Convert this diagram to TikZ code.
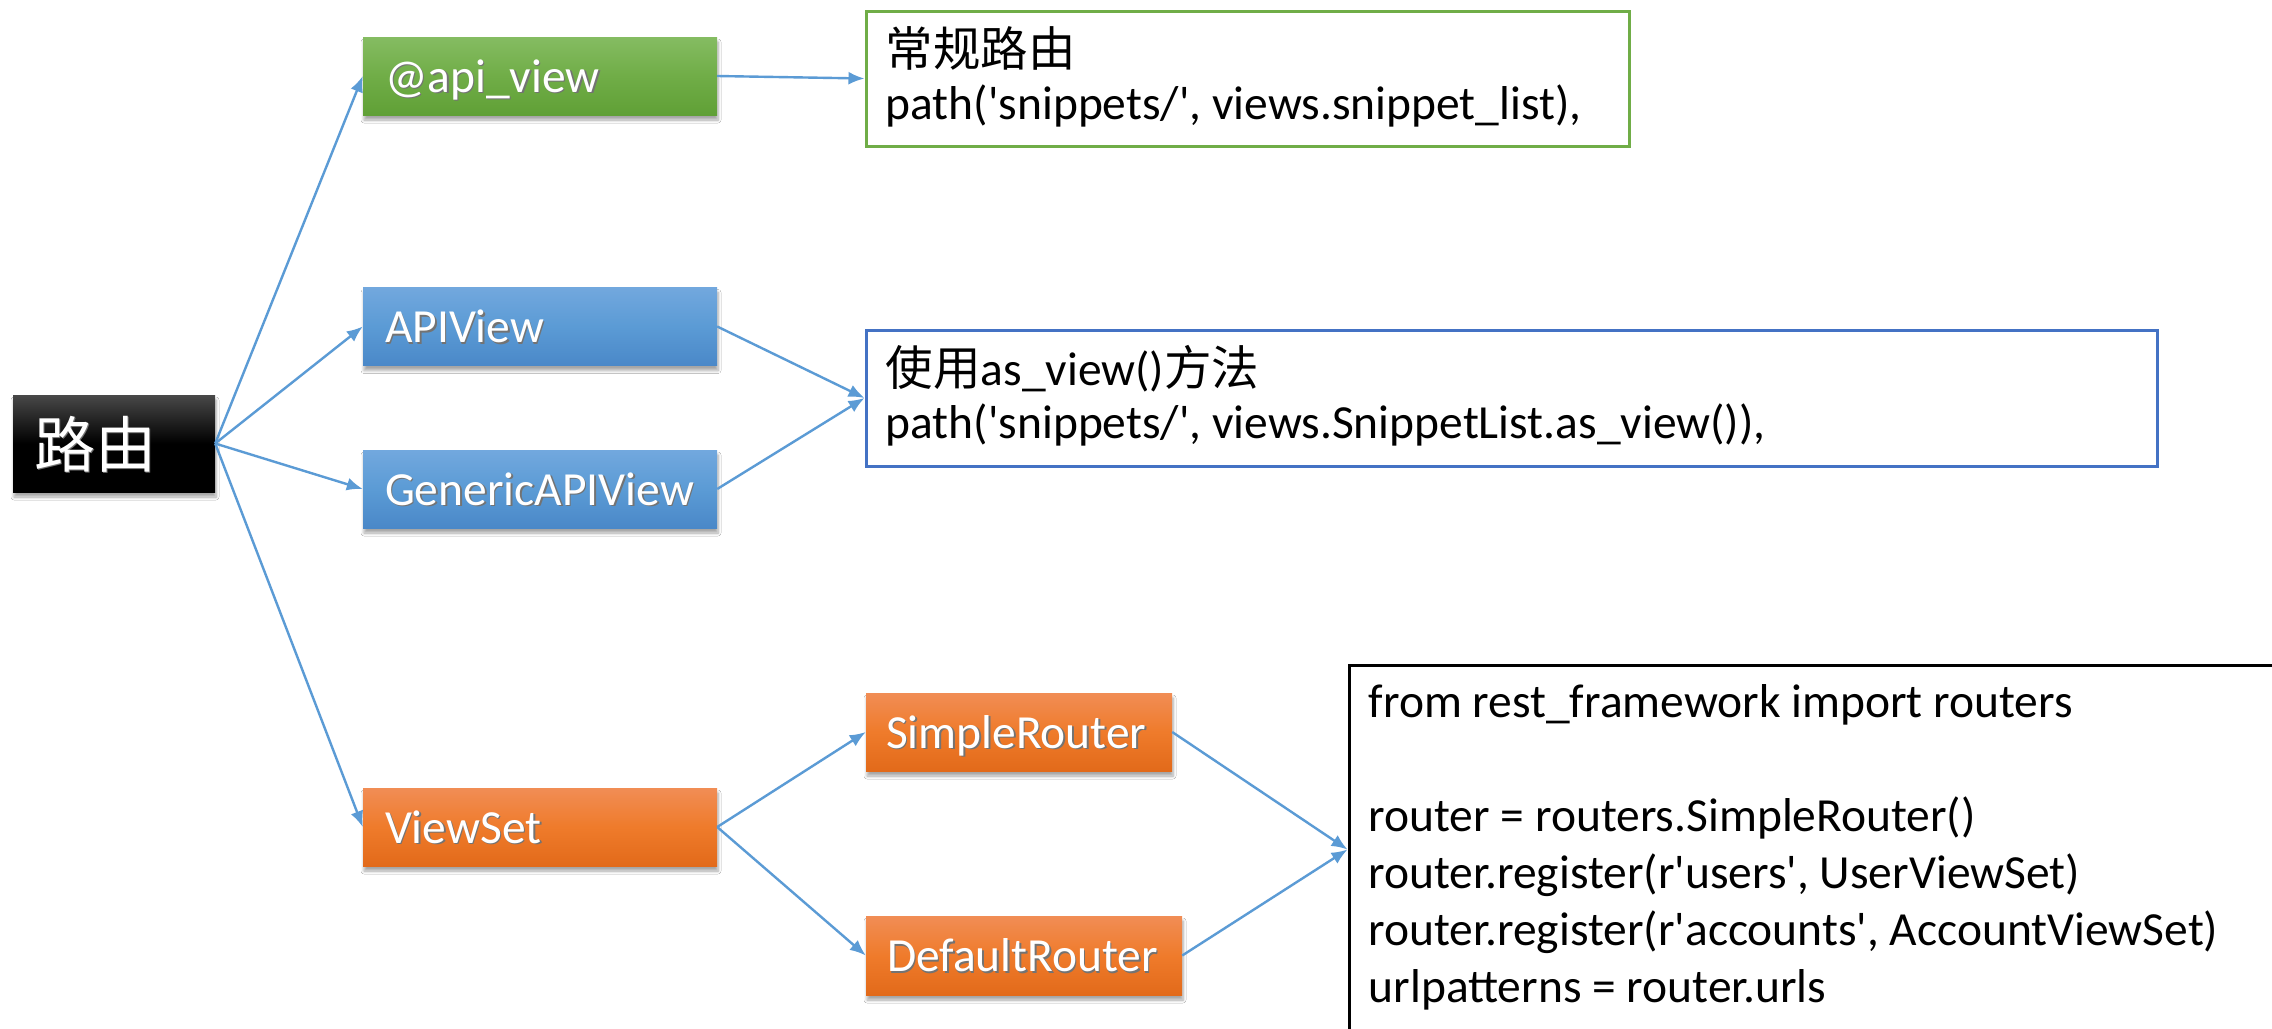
\documentclass[tikz,border=0pt]{standalone}
\usepackage{fontspec}
\setmainfont{Carlito}[Ligatures=TeXOff]
\newfontfamily\cjk{Noto Sans CJK SC}
\usetikzlibrary{arrows.meta,shadows.blur}
\definecolor{arrblue}{HTML}{5B9BD5}
\definecolor{G1}{HTML}{85BC62}
\definecolor{G2}{HTML}{70AD47}
\definecolor{G3}{HTML}{60A036}
\definecolor{B1}{HTML}{72A8DE}
\definecolor{B2}{HTML}{5B9BD5}
\definecolor{B3}{HTML}{4A88C8}
\definecolor{O1}{HTML}{F18D55}
\definecolor{O2}{HTML}{EF7B2B}
\definecolor{O3}{HTML}{E26A1A}
\definecolor{R1}{HTML}{484848}
\definecolor{GB}{HTML}{70AD47}
\definecolor{BB}{HTML}{4472C4}
\newcommand\shtxt[1]{\rlap{\hspace{1.6pt}\raisebox{-1.6pt}{\color{black!55}#1}}#1}
\begin{document}
\begin{tikzpicture}[x=1pt,y=-1pt,
  arr/.style={draw=arrblue, line width=2.4pt, -{Latex[length=16pt,width=13pt]}},
  box/.style={rectangle, inner sep=0pt, minimum width=354pt, minimum height=78pt,
    blur shadow={shadow xshift=1pt, shadow yshift=-5pt, shadow blur steps=6, shadow blur radius=3pt, shadow opacity=35}},
  gbox/.style={box, top color=G1, bottom color=G3, middle color=G2},
  bbox/.style={box, top color=B1, bottom color=B3, middle color=B2},
  obox/.style={box, top color=O1, bottom color=O3, middle color=O2},
  rootbox/.style={box, minimum width=202pt, minimum height=97pt, top color=R1, bottom color=black, middle color=black},
  lbl/.style={inner sep=0pt, anchor=base west, text=white, font=\fontsize{47.5}{57}\selectfont},
  code/.style={inner sep=0pt, anchor=base west, align=left, text=black, font=\fontsize{47.5}{53}\selectfont},
  codebox/.style={rectangle, inner sep=0pt, line width=3pt, fill=white}
]
\useasboundingbox (0,0) rectangle (2272,1028);
\fill[white] (0,0) rectangle (2272,1028);

% left column
\node[rootbox] (root) at (114,443.5) {};
\node[gbox] (api) at (540,76) {};
\node[bbox] (apiview) at (540,326.5) {};
\node[bbox] (generic) at (540,489) {};
\node[obox] (viewset) at (540,827) {};
\node[obox, minimum width=306pt] (simple) at (1019,732) {};
\node[obox, minimum width=316pt, minimum height=79pt] (default) at (1024,955.5) {};

\node[lbl, font=\cjk\fontsize{61}{70}\selectfont] (rootT) at ([xshift=21pt,yshift=-23.5pt]root.west) {\shtxt{路由}};
\node[lbl] (apiT) at ([xshift=22pt,yshift=-16pt]api.west) {\shtxt{@api\_view}};
\node[lbl] (apiviewT) at ([xshift=22pt,yshift=-16pt]apiview.west) {\shtxt{APIView}};
\node[lbl] (genericT) at ([xshift=22pt,yshift=-16pt]generic.west) {\shtxt{GenericAPIView}};
\node[lbl] (viewsetT) at ([xshift=22pt,yshift=-16pt]viewset.west) {\shtxt{ViewSet}};
\node[lbl] (simpleT) at ([xshift=20pt,yshift=-16pt]simple.west) {\shtxt{SimpleRouter}};
\node[lbl] (defaultT) at ([xshift=21pt,yshift=-16pt]default.west) {\shtxt{DefaultRouter}};

% code boxes
\node[codebox, draw=GB, minimum width=763pt, minimum height=135pt] (code1) at (1247.5,78.5) {};
\node[codebox, draw=BB, minimum width=1291pt, minimum height=136pt] (code2) at (1511.5,398) {};
\node[codebox, draw=black, minimum width=951pt, minimum height=369pt] (code3) at (1824.5,849.5) {};

\node[code] (code1T) at ([xshift=21pt,yshift=-110pt]code1.north west)
  {{\cjk 常规路由}\\path('snippets/', views.snippet\_list),};
\node[code] (code2T) at ([xshift=21pt,yshift=-110pt]code2.north west)
  {{\cjk 使用}as\_view(){\cjk 方法}\\path('snippets/', views.SnippetList.as\_view()),};
\node[code, font=\fontsize{47.5}{57}\selectfont] (code3T) at ([xshift=21pt,yshift=-339pt]code3.north west)
  {from rest\_framework import routers\\[57pt]
   router = routers.SimpleRouter()\\
   router.register(r'users', UserViewSet)\\
   router.register(r'accounts', AccountViewSet)\\
   urlpatterns = router.urls};

% connectors
\draw[arr] (root.east) -- (api.west);
\draw[arr] (root.east) -- (apiview.west);
\draw[arr] (root.east) -- (generic.west);
\draw[arr] (root.east) -- (viewset.west);
\draw[arr] (api.east) -- (code1.west);
\draw[arr] (apiview.east) -- (code2.west);
\draw[arr] (generic.east) -- (code2.west);
\draw[arr] (viewset.east) -- (simple.west);
\draw[arr] (viewset.east) -- (default.west);
\draw[arr] (simple.east) -- (code3.west);
\draw[arr] (default.east) -- (code3.west);
\end{tikzpicture}
\end{document}
